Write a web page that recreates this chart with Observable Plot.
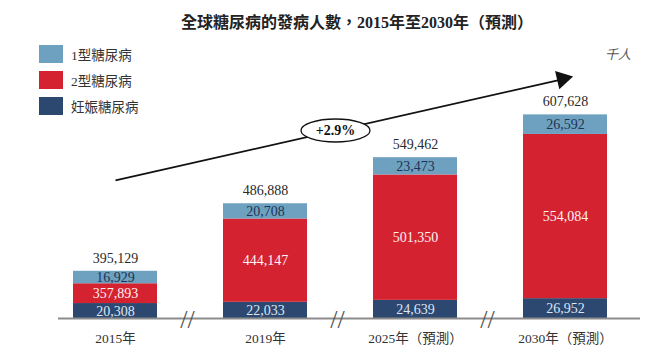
<!DOCTYPE html>
<html>
<head>
<meta charset="utf-8">
<script src="https://cdn.jsdelivr.net/npm/d3@7"></script>
<script src="https://cdn.jsdelivr.net/npm/@observablehq/plot@0.6"></script>
<style>
  body { margin: 0; background: #fff; }
  #wrap { position: relative; width: 650px; height: 357px; font-family: "Liberation Serif", "Noto Sans CJK TC", serif; color: #333; }
  #title { position: absolute; top: 9px; left: 357px; transform: translateX(-50%); white-space: nowrap; font-size: 16px; font-weight: bold; color: #222; }
  #legend { position: absolute; left: 39px; top: 45px; }
  .item { display: flex; align-items: center; height: 18px; margin-bottom: 8px; font-size: 13.5px; color: #333; }
  .sw { width: 24px; height: 18px; margin-right: 8px; }
  #unit { position: absolute; left: 605px; top: 44px; font-size: 13px; font-style: italic; color: #555; }
  #chart { position: absolute; left: 0; top: 0; }
</style>
</head>
<body>
<div id="wrap">
  <div id="chart"></div>
  <div id="title"></div>
  <div id="legend"></div>
  <div id="unit">千人</div>
</div>
<script>
const titleText = "全球糖尿病的發病人數，2015年至2030年（預測）";
const categories = ["2015年", "2019年", "2025年（預測）", "2030年（預測）"];
const seriesNames = ["1型糖尿病", "2型糖尿病", "妊娠糖尿病"];
const seriesColors = ["#6ea1bf", "#d42231", "#2d4870"];
const type1 = [16929, 20708, 23473, 26592];
const type2 = [357893, 444147, 501350, 554084];
const gestational = [20308, 22033, 24639, 26952];
const totals = [395129, 486888, 549462, 607628];
const growthLabel = "+2.9%";
// the value axis is broken: this part of each 2型 segment is not drawn
const axisBreak = 331000;

document.getElementById("title").textContent = titleText;
const legend = document.getElementById("legend");
seriesNames.forEach((n, i) => {
  const it = document.createElement("div");
  it.className = "item";
  it.innerHTML = `<div class="sw" style="background:${seriesColors[i]}"></div><span>${n}</span>`;
  legend.appendChild(it);
});

const fmt = d3.format(",");
const segments = [];
const tops = [];
categories.forEach((c, i) => {
  const g0 = 0, g1 = gestational[i];
  const r1 = g1 + type2[i] - axisBreak;
  const t1 = totals[i] - axisBreak;
  segments.push({category: c, series: "妊娠糖尿病", y1: g0, y2: g1, value: gestational[i]});
  segments.push({category: c, series: "2型糖尿病", y1: g1, y2: r1, value: type2[i]});
  segments.push({category: c, series: "1型糖尿病", y1: r1, y2: t1, value: type1[i]});
  tops.push({category: c, top: t1, value: totals[i]});
});

// custom ellipse symbol for the growth-rate badge
const ellipseSymbol = {
  draw(ctx, size) {
    const r = Math.sqrt(size / Math.PI);
    const rx = r * 3, ry = r, k = 0.5523;
    ctx.moveTo(rx, 0);
    ctx.bezierCurveTo(rx, ry * k, rx * k, ry, 0, ry);
    ctx.bezierCurveTo(-rx * k, ry, -rx, ry * k, -rx, 0);
    ctx.bezierCurveTo(-rx, -ry * k, -rx * k, -ry, 0, -ry);
    ctx.bezierCurveTo(rx * k, -ry, rx, -ry * k, rx, 0);
    ctx.closePath();
  }
};

const trend = [{from: categories[0], to: categories[3], label: growthLabel}];
const labelFont = 14;

const chart = Plot.plot({
  width: 650,
  height: 357,
  marginTop: 0,
  marginBottom: 39,
  marginLeft: 58,
  marginRight: 10,
  style: {fontFamily: "'Liberation Serif', 'Noto Sans CJK TC', serif", background: "transparent", overflow: "visible"},
  x: {domain: categories, range: [40, 640], paddingInner: 0.44, paddingOuter: 0.22, label: null},
  y: {domain: [0, 432000], axis: null},
  color: {domain: seriesNames, range: seriesColors},
  marks: [
    Plot.barY(segments, {x: "category", y1: "y1", y2: "y2", fill: "series"}),
    Plot.ruleY([0], {stroke: "#8c8c8c", strokeWidth: 2}),
    Plot.text(categories.slice(0, 3), {x: d => d, y: 0, text: () => "//", dx: 72, dy: 1, fontSize: 26, fill: "#555"}),
    Plot.text(segments.filter(d => d.series === "1型糖尿病"), {x: "category", y: d => (d.y1 + d.y2) / 2, text: d => fmt(d.value), fill: "#1d3455", fontSize: labelFont}),
    Plot.text(segments.filter(d => d.series === "2型糖尿病"), {x: "category", y: d => (d.y1 + d.y2) / 2, text: d => fmt(d.value), fill: "#fff2f2", fontSize: labelFont}),
    Plot.text(segments.filter(d => d.series === "妊娠糖尿病"), {x: "category", y: d => (d.y1 + d.y2) / 2, text: d => fmt(d.value), fill: "#dde6f2", fontSize: labelFont}),
    Plot.text(tops, {x: "category", y: "top", text: d => fmt(d.value), dy: -13, fill: "#2a2a2a", fontSize: labelFont}),
    Plot.link(trend, {x1: "from", x2: "to", y1: () => 187500, y2: () => 326000, stroke: "#111", strokeWidth: 1.8}),
    Plot.dot(trend, {x: "to", y: () => 325500, dx: -3, symbol: "triangle", r: 7, fill: "#111", stroke: "none", rotate: 77}),
    Plot.dot(trend, {x: () => categories[1], y: () => 255400, dx: 70, symbol: ellipseSymbol, r: 11.5, fill: "#fff", stroke: "#111", strokeWidth: 1.3}),
    Plot.text(trend, {x: () => categories[1], y: () => 255400, dx: 70, text: "label", fontWeight: "bold", fontSize: 14, fill: "#111"}),
    Plot.axisX({tickSize: 0, tickPadding: 15, fontSize: 13.5, fill: "#333"})
  ]
});
document.getElementById("chart").appendChild(chart);
</script>
</body>
</html>
